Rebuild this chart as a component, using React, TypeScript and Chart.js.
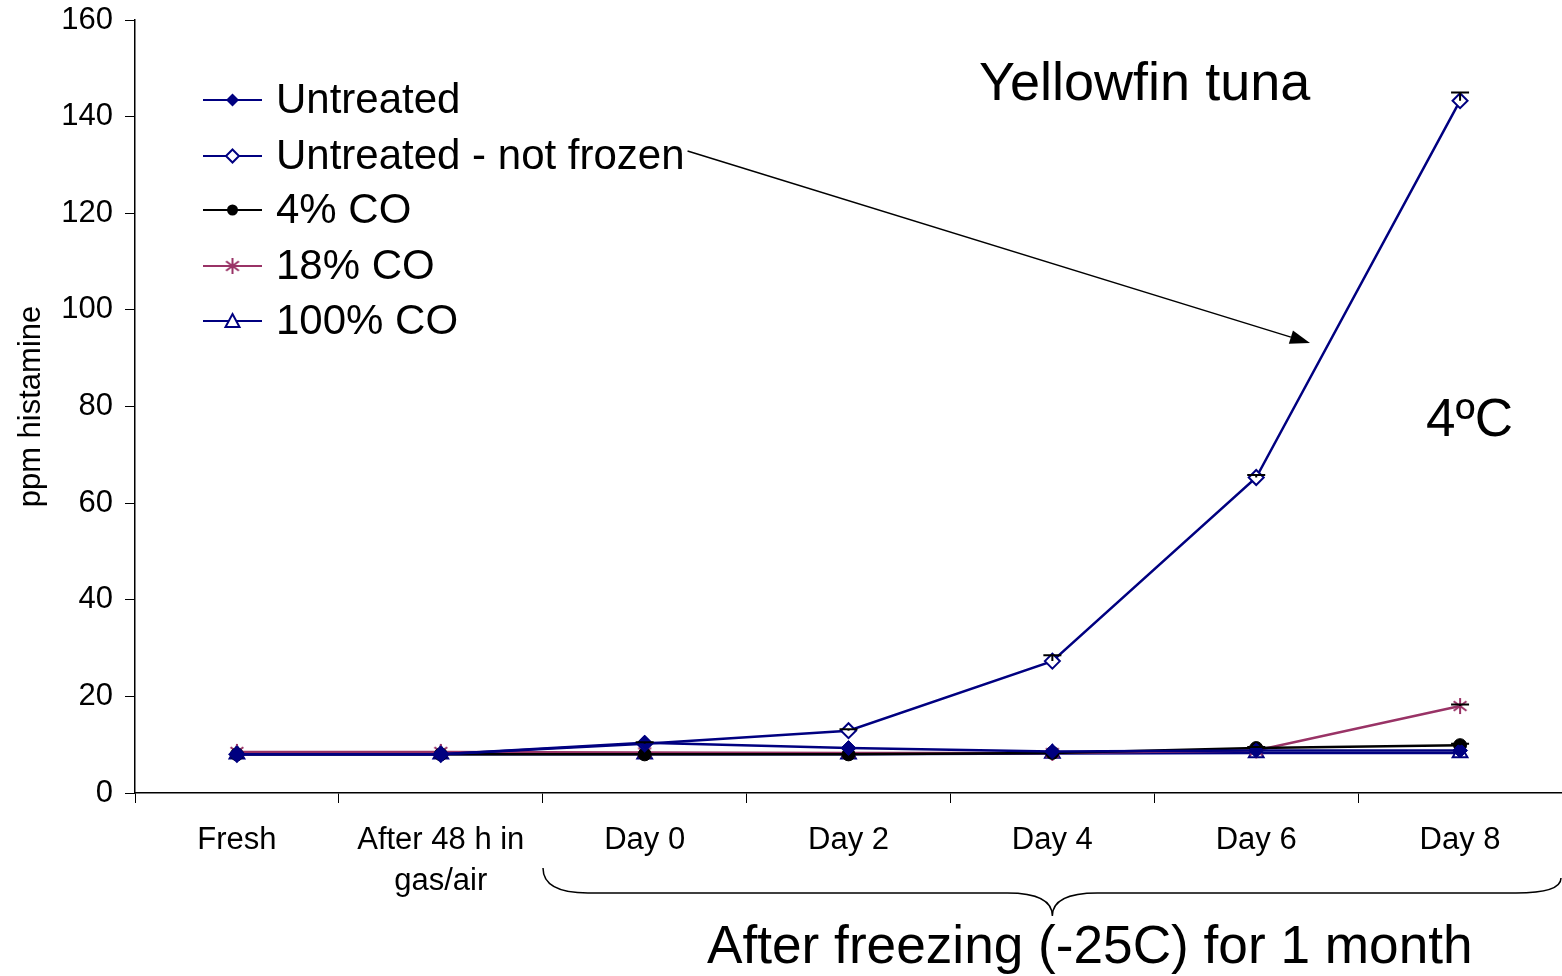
import React, { useEffect, useRef } from 'react';
import { Chart, registerables } from 'chart.js';

Chart.register(...registerables);

const categories: (string | string[])[] = ['Fresh', ['After 48 h in', 'gas/air'], 'Day 0', 'Day 2', 'Day 4', 'Day 6', 'Day 8'];
const seriesNames = ['Untreated', 'Untreated - not frozen', '4% CO', '18% CO', '100% CO'];
const untreated = [8, 8, 10.4, 9.3, 8.6, 8.8, 8.8];
const notFrozen = [8, 8, 10.2, 12.9, 27.3, 65.3, 143.3];
const co4 = [8, 8, 8, 8, 8.3, 9.3, 9.9];
const co18 = [8.5, 8.5, 8.4, 8.3, 8.3, 8.8, 18];
const co100 = [8, 8, 8, 8, 8.2, 8.3, 8.3];
const notFrozenErr = [0, 0, 0.3, 0.3, 1.2, 0.5, 1.7];
const co4Err = [0, 0, 0, 0, 0, 0.2, 0.3];
const co18Err = [0, 0, 0, 0, 0, 0, 0.3];
const yMin = 0;
const yMax = 160;
const yStep = 20;

const chartTitle = 'Yellowfin tuna';
const tempLabel = '4ºC';
const braceLabel = 'After freezing (-25C) for 1 month';
const yTitle = 'ppm histamine';

const NAVY = '#000080';
const PLUM = '#993366';
const FONT = '"Liberation Sans", Arial, sans-serif';

function makeStar(color: string, size: number) {
  const c = document.createElement('canvas');
  c.width = size;
  c.height = size;
  const g = c.getContext('2d')!;
  g.strokeStyle = color;
  g.lineWidth = 2;
  const m = size / 2;
  const r = size / 2 - 1;
  g.beginPath();
  g.moveTo(m, m - r);
  g.lineTo(m, m + r);
  const d = r * 0.8;
  g.moveTo(m - d, m - d * 0.75);
  g.lineTo(m + d, m + d * 0.75);
  g.moveTo(m + d, m - d * 0.75);
  g.lineTo(m - d, m + d * 0.75);
  g.stroke();
  return c;
}

function drawMarker(ctx: CanvasRenderingContext2D, kind: string, x: number, y: number, color: string, star?: HTMLCanvasElement) {
  ctx.save();
  ctx.strokeStyle = color;
  ctx.fillStyle = color;
  ctx.lineWidth = 2;
  ctx.beginPath();
  if (kind === 'diamondFilled' || kind === 'diamondOpen') {
    const r = 6.5;
    ctx.moveTo(x, y - r);
    ctx.lineTo(x + r, y);
    ctx.lineTo(x, y + r);
    ctx.lineTo(x - r, y);
    ctx.closePath();
    if (kind === 'diamondFilled') ctx.fill();
    else {
      ctx.fillStyle = '#fff';
      ctx.fill();
      ctx.stroke();
    }
  } else if (kind === 'circle') {
    ctx.arc(x, y, 5.5, 0, Math.PI * 2);
    ctx.fill();
  } else if (kind === 'triangle') {
    ctx.moveTo(x, y - 7);
    ctx.lineTo(x + 7, y + 6);
    ctx.lineTo(x - 7, y + 6);
    ctx.closePath();
    ctx.fillStyle = '#fff';
    ctx.fill();
    ctx.stroke();
  } else if (kind === 'star' && star) {
    ctx.drawImage(star, x - star.width / 2, y - star.height / 2);
  }
  ctx.restore();
}

export default function App() {
  const ref = useRef<HTMLCanvasElement | null>(null);

  useEffect(() => {
    document.body.style.margin = '0';
    const canvas = ref.current;
    if (!canvas) return;
    const star = makeStar(PLUM, 18);

    const legendItems = [
      { name: seriesNames[0], color: NAVY, kind: 'diamondFilled' },
      { name: seriesNames[1], color: NAVY, kind: 'diamondOpen' },
      { name: seriesNames[2], color: '#000', kind: 'circle' },
      { name: seriesNames[3], color: PLUM, kind: 'star' },
      { name: seriesNames[4], color: NAVY, kind: 'triangle' },
    ];

    const errorSets = [
      { ds: 1, err: notFrozenErr },
      { ds: 2, err: co4Err },
      { ds: 3, err: co18Err },
    ];

    const decor = {
      id: 'decor',
      afterDatasetsDraw(chart: any) {
        const ctx: CanvasRenderingContext2D = chart.ctx;
        const ys = chart.scales.y;
        ctx.save();
        ctx.strokeStyle = '#000';
        ctx.lineWidth = 2;
        errorSets.forEach(({ ds, err }) => {
          const meta = chart.getDatasetMeta(ds);
          const data = chart.data.datasets[ds].data as number[];
          err.forEach((e, i) => {
            if (!e) return;
            const x = meta.data[i].x;
            const y0 = ys.getPixelForValue(data[i]);
            const y1 = ys.getPixelForValue(data[i] + e);
            ctx.beginPath();
            ctx.moveTo(x, y0);
            ctx.lineTo(x, y1);
            ctx.moveTo(x - 9, y1);
            ctx.lineTo(x + 9, y1);
            ctx.stroke();
          });
        });
        ctx.restore();
      },
      afterDraw(chart: any) {
        const ctx: CanvasRenderingContext2D = chart.ctx;
        const area = chart.chartArea;
        const xs = chart.scales.x;
        ctx.save();
        // y title
        ctx.save();
        ctx.translate(31, (area.top + area.bottom) / 2);
        ctx.rotate(-Math.PI / 2);
        ctx.font = `31px ${FONT}`;
        ctx.fillStyle = '#000';
        ctx.textAlign = 'center';
        ctx.textBaseline = 'middle';
        ctx.fillText(yTitle, 0, 0);
        ctx.restore();

        // legend
        const lx0 = area.left + 68;
        const lx1 = area.left + 127;
        const tx = area.left + 141;
        const rowY = [100, 156, 210, 266, 321];
        ctx.font = `42px ${FONT}`;
        ctx.textBaseline = 'middle';
        ctx.textAlign = 'left';
        let frozenEnd = 0;
        legendItems.forEach((it, i) => {
          const y = rowY[i];
          ctx.strokeStyle = it.color;
          ctx.lineWidth = 2;
          ctx.beginPath();
          ctx.moveTo(lx0, y);
          ctx.lineTo(lx1, y);
          ctx.stroke();
          drawMarker(ctx, it.kind, (lx0 + lx1) / 2, y, it.color, star);
          ctx.fillStyle = '#000';
          ctx.fillText(it.name, tx, y + 1);
          if (i === 1) frozenEnd = tx + ctx.measureText(it.name).width;
        });

        // arrow from legend to the not-frozen curve
        const ax0 = frozenEnd + 3;
        const ay0 = 151;
        const ax1 = 1310;
        const ay1 = 343;
        ctx.strokeStyle = '#000';
        ctx.fillStyle = '#000';
        ctx.lineWidth = 1.5;
        const ang = Math.atan2(ay1 - ay0, ax1 - ax0);
        const hl = 20;
        const hw = 7;
        const bx = ax1 - hl * Math.cos(ang);
        const by = ay1 - hl * Math.sin(ang);
        ctx.beginPath();
        ctx.moveTo(ax0, ay0);
        ctx.lineTo(bx, by);
        ctx.stroke();
        ctx.beginPath();
        ctx.moveTo(ax1, ay1);
        ctx.lineTo(bx + hw * Math.sin(ang), by - hw * Math.cos(ang));
        ctx.lineTo(bx - hw * Math.sin(ang), by + hw * Math.cos(ang));
        ctx.closePath();
        ctx.fill();

        // titles
        ctx.font = `54px ${FONT}`;
        ctx.textAlign = 'left';
        ctx.textBaseline = 'alphabetic';
        ctx.fillText(chartTitle, 979, 100);
        ctx.font = `53px ${FONT}`;
        ctx.fillText(tempLabel, 1426, 436);

        // brace under frozen categories
        const bl = 543;
        const br = 1561;
        const mid = xs.getPixelForValue(4);
        const yTop = 868;
        const yMid = 893;
        const yTip = 916;
        ctx.lineWidth = 1.5;
        ctx.beginPath();
        ctx.moveTo(bl, yTop);
        ctx.quadraticCurveTo(bl, yMid, bl + 45, yMid);
        ctx.lineTo(mid - 45, yMid);
        ctx.quadraticCurveTo(mid, yMid, mid, yTip);
        ctx.quadraticCurveTo(mid, yMid, mid + 45, yMid);
        ctx.lineTo(br - 45, yMid);
        ctx.quadraticCurveTo(br, yMid, br, yTop + 10);
        ctx.stroke();

        ctx.font = `53.2px ${FONT}`;
        ctx.textAlign = 'left';
        ctx.fillText(braceLabel, 707, 963);
        ctx.restore();
      },
    };

    const chart = new Chart(canvas, {
      type: 'line',
      data: {
        labels: categories as any,
        datasets: [
          {
            label: seriesNames[0], data: untreated, borderColor: NAVY, backgroundColor: NAVY,
            pointStyle: 'rectRot', pointRadius: 7.5, pointBorderWidth: 1, borderWidth: 2.5,
          },
          {
            label: seriesNames[1], data: notFrozen, borderColor: NAVY, backgroundColor: '#fff',
            pointStyle: 'rectRot', pointRadius: 7.5, pointBorderWidth: 2, borderWidth: 2.5,
          },
          {
            label: seriesNames[2], data: co4, borderColor: '#000', backgroundColor: '#000',
            pointStyle: 'circle', pointRadius: 6.5, pointBorderWidth: 1, borderWidth: 2.5,
          },
          {
            label: seriesNames[3], data: co18, borderColor: PLUM, backgroundColor: PLUM,
            pointStyle: star as any, pointRadius: 8, borderWidth: 2.5,
          },
          {
            label: seriesNames[4], data: co100, borderColor: NAVY, backgroundColor: '#fff',
            pointStyle: 'triangle', pointRadius: 8.5, pointBorderWidth: 2, borderWidth: 2.5,
          },
        ],
      },
      options: {
        responsive: false,
        animation: false,
        events: [],
        layout: { autoPadding: false, padding: { top: 20, right: -4, bottom: 0, left: 0 } },
        plugins: { legend: { display: false }, tooltip: { enabled: false }, title: { display: false } },
        elements: { line: { tension: 0 } },
        scales: {
          x: {
            type: 'category',
            offset: true,
            grid: { display: true, drawOnChartArea: false, drawTicks: true, tickLength: 10, color: '#000', offset: true },
            border: { display: true, color: '#000', width: 1.5 },
            ticks: { color: '#000', font: { family: FONT, size: 31, lineHeight: 1.32 }, padding: 17, maxRotation: 0, autoSkip: false },
            afterFit: (s: any) => { s.height = 183; s.paddingLeft = 0; s.paddingRight = 0; },
          },
          y: {
            min: yMin,
            max: yMax,
            grid: { display: true, drawOnChartArea: false, drawTicks: true, tickLength: 10, color: '#000' },
            border: { display: true, color: '#000', width: 1.5 },
            ticks: { stepSize: yStep, color: '#000', font: { family: FONT, size: 31 }, padding: 12 },
            afterFit: (s: any) => { s.width = 135; s.paddingTop = 0; s.paddingBottom = 0; },
          },
        },
      },
      plugins: [decor],
    });

    return () => chart.destroy();
  }, []);

  return (
    <div style={{ position: 'absolute', left: 0, top: 0, width: 1562, height: 976 }}>
      <canvas ref={ref} width={1562} height={976} />
    </div>
  );
}
